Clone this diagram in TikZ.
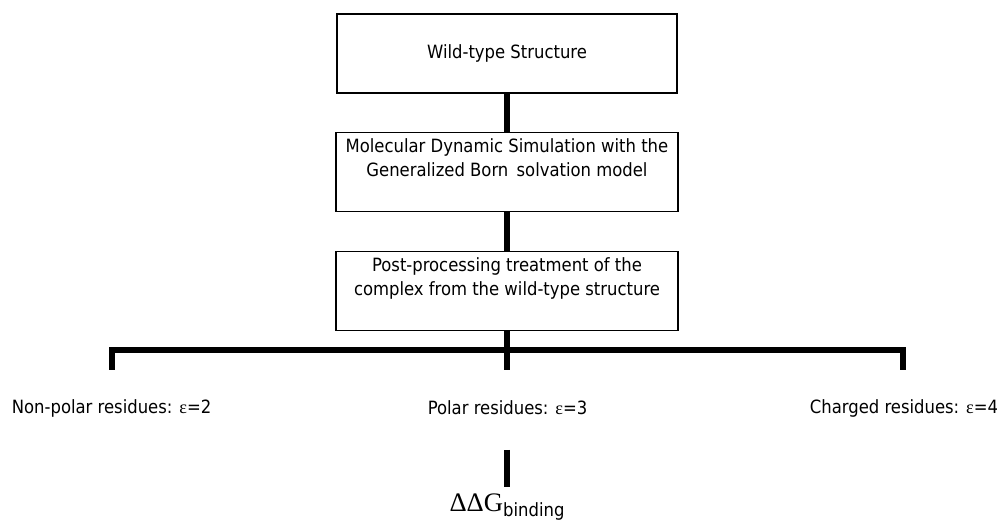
\documentclass[tikz,border=0pt]{standalone}
\usepackage{fontspec}
\setmainfont{DejaVu Sans Condensed}
\newfontfamily\greekfont{Liberation Serif}
\usetikzlibrary{positioning}
\newcommand{\stagetext}[2][1.65cm]{\parbox[t][#1][t]{8.4cm}{\centering #2}}
\newcommand{\eps}{{\greekfont ε}}

\begin{document}
\begin{tikzpicture}[line join=miter,
  font=\fontsize{13}{16.5}\selectfont,
  stage/.style={draw,line width=1pt,minimum width=8.5cm,minimum height=1.975cm,inner sep=2pt},
  link/.style={line width=3.6pt},
  group/.style={inner sep=1pt}]
\path[use as bounding box] (0,0) rectangle (24.925,13.1);
\fill[white] (0,0) rectangle (24.925,13.1);

% stages
\node[stage] (wt) at (12.675,11.7625) {Wild-type Structure};
\node[stage] (md) at (12.675,8.8) {\stagetext{Molecular Dynamic Simulation with the\\Generalized Born\, solvation model}};
\node[stage] (pp) at (12.675,5.825) {\stagetext{Post-processing treatment of the\\complex from the wild-type structure}};
\draw[link] (wt.south) -- (md.north);
\draw[link] (md.south) -- (pp.north);

% fork to the three residue classes
\coordinate (forkL) at (2.8,4.35);
\coordinate (forkR) at (22.575,4.35);
\coordinate (dropL) at (2.8,3.85);
\coordinate (dropM) at (12.675,3.85);
\coordinate (dropR) at (22.575,3.85);
\draw[link] (dropL) -- (forkL) -- (forkR) -- (dropR);
\draw[link] (pp.south) -- (dropM);
\node[group] (nonpolar) at (2.79,2.9) {Non-polar residues: \eps=2};
\node[group] (polar) at (12.69,2.9) {Polar residues: \eps=3};
\node[group] (charged) at (22.6,2.9) {Charged residues: \eps=4};

% result
\coordinate (outT) at (12.675,1.85);
\coordinate (outB) at (12.675,0.925);
\draw[link] (outT) -- (outB);
\node (ddg) at (12.675,0.42) {{\greekfont\fontsize{19}{19}\selectfont ΔΔG}\raisebox{-0.45ex}{binding}};
\end{tikzpicture}
\end{document}
